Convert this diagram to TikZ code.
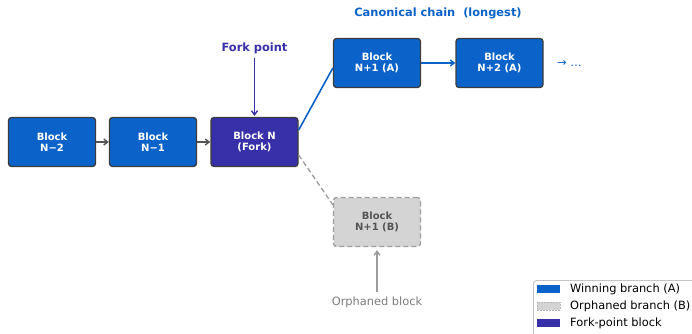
\documentclass[tikz,border=0pt]{standalone}
\usepackage{fontspec}
\setmainfont{DejaVu Sans}
\usetikzlibrary{arrows.meta,positioning}
\definecolor{winblue}{HTML}{0B63C9}
\definecolor{forkblue}{HTML}{3730A8}
\definecolor{edge}{HTML}{3C3C3C}
\definecolor{orphfill}{HTML}{D4D4D4}
\definecolor{orphedge}{HTML}{9C9C9C}
\definecolor{orphtext}{HTML}{555555}
\definecolor{linkgray}{HTML}{555555}
\definecolor{keyframe}{HTML}{C4C4C4}
\tikzset{
  block/.style={rectangle,rounded corners=3pt,draw=edge,line width=1.3pt,fill=winblue,text=white,
    font=\bfseries\fontsize{10}{11.5}\selectfont,align=center,minimum width=87pt,minimum height=49pt,inner sep=0pt},
  forkblock/.style={block,fill=forkblue},
  orphan/.style={block,fill=orphfill,draw=orphedge,dash pattern=on 5pt off 3pt,text=orphtext},
  link/.style={-{Straight Barb[length=4pt,width=6pt]},line width=1.4pt,draw=linkgray},
  winlink/.style={link,draw=winblue},
  note/.style={font=\fontsize{11.4}{13}\selectfont,inner sep=1pt},
  keypatch/.style={rectangle,minimum width=23pt,minimum height=8pt,inner sep=0pt},
  keytext/.style={note,anchor=west}
}
\begin{document}
\begin{tikzpicture}[x=1pt,y=-1pt]
\useasboundingbox (0,0) rectangle (692,333);
\clip (0,0) rectangle (692,333);
% main chain up to the fork
\node[block] (nm2) at (52,142) {Block\\N−2};
\node[block] (nm1) at (153,142) {Block\\N−1};
\node[forkblock] (n) at (254.5,142) {Block N\\(Fork)};
% the two branches
\node[block] (a1) at (377,63) {Block\\N+1 (A)};
\node[block] (a2) at (499.5,63) {Block\\N+2 (A)};
\node[note,text=winblue,anchor=west] (more) at (556,63) {→ …};
\node[orphan] (b1) at (377,222) {Block\\N+1 (B)};
% labels
\node[note,font=\bfseries\fontsize{11.4}{13}\selectfont,text=winblue] (canon) at (438,13) {Canonical chain\ \ (longest)};
\node[note,font=\bfseries\fontsize{11.4}{13}\selectfont,text=forkblue] (forklbl) at (254.5,48) {Fork point};
\node[note,text=orphedge!80!black] (orphlbl) at (377,302) {Orphaned block};
% connectors
\draw[link] (nm2) -- (nm1);
\draw[link] (nm1) -- (n);
\draw[winblue,line width=1.6pt] ([yshift=12pt]n.east) -- ([yshift=-5pt]a1.west);
\draw[winlink] (a1) -- (a2);
\draw[orphedge,line width=1.3pt,dash pattern=on 5pt off 3pt] ([yshift=-13pt]n.east) -- ([yshift=-8pt]b1.north west);
\draw[link,draw=forkblue,shorten <=3pt,shorten >=1pt] (forklbl.south) -- (n.north);
\draw[link,draw=orphedge,shorten <=3pt,shorten >=3pt] (orphlbl.north) -- (b1.south);
% legend
\draw[keyframe,line width=0.9pt,fill=white,rounded corners=3pt] (533.5,280.5) rectangle (705,345);
\node[keypatch,fill=winblue] (k1) at (548.5,289) {};
\node[keypatch,fill=orphfill,draw=orphedge!70,dash pattern=on 2pt off 1pt] (k2) at (548.5,306) {};
\node[keypatch,fill=forkblue] (k3) at (548.5,323) {};
\node[keytext] (t1) at (569,289) {Winning branch (A)};
\node[keytext] (t2) at (569,306) {Orphaned branch (B)};
\node[keytext] (t3) at (569,323) {Fork-point block};
\end{tikzpicture}
\end{document}
